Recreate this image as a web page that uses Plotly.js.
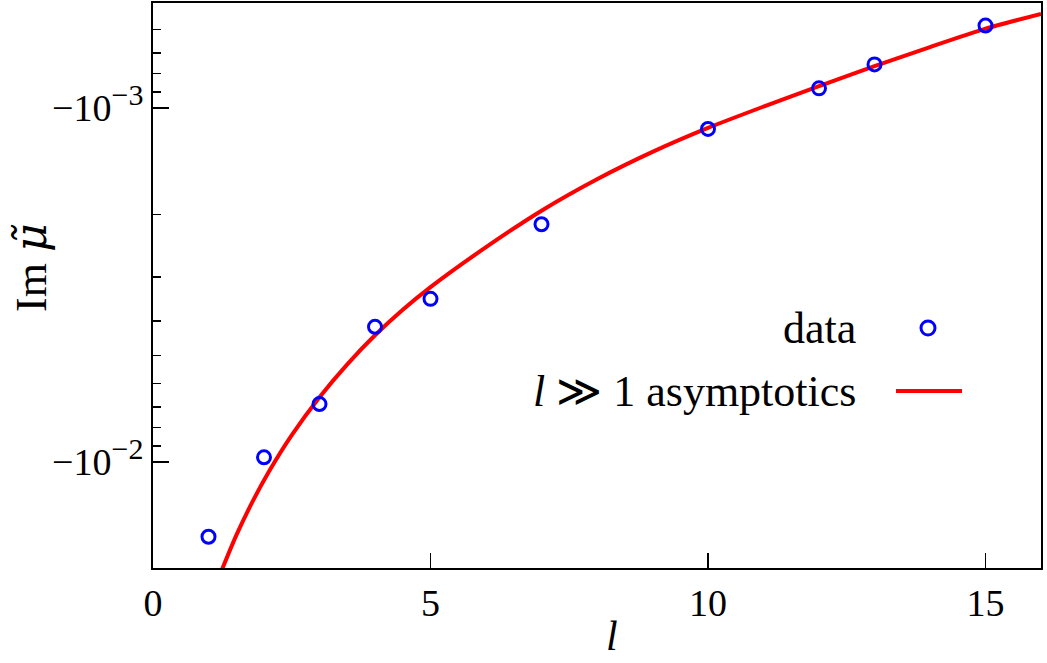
<!DOCTYPE html>
<html>
<head>
<meta charset="utf-8">
<script src="https://cdn.plot.ly/plotly-3.0.1.min.js"></script>
<style>
  html, body { margin: 0; padding: 0; background: white; }
  #chart { width: 1047px; height: 663px; }
</style>
</head>
<body>
<div id="chart"></div>
<script>
// numerical data: Im mu (negative) vs l
const lData = [1, 2, 3, 4, 5, 7, 10, 12, 13, 15]
const imMuData = [-0.01626, -0.00970, -0.00686, -0.00415, -0.00346, -0.00213, -0.001146, -0.000880, -0.000753, -0.000585]

// l >> 1 asymptotic curve
const lAsym = [1.24, 1.5, 1.8, 2.1, 2.5, 3, 3.5, 4, 4.5, 5, 6, 7, 8, 9, 10, 11, 12, 13, 14, 15, 16]
const imMuAsym = [-0.02018, -0.01612, -0.01288, -0.01057, -0.008395, -0.006561, -0.005297, -0.004385, -0.003715, -0.003206,
    -0.002472, -0.001950, -0.001589, -0.001330, -0.001138, -0.000991, -0.000867, -0.000762, -0.000673, -0.000597, -0.000542]

// axis ticks
const xTicks = [0, 5, 10, 15]
const yTickVals = [0.001, 0.01]
const yTickText = [
    '\u221210<sup><span style="font-size:30px">\u22123</span></sup>',
    '\u221210<sup><span style="font-size:30px">\u22122</span></sup>'
]
const yMinorVals = [0.0006, 0.0007, 0.0008, 0.0009, 0.002, 0.003, 0.004, 0.005, 0.006, 0.007, 0.008, 0.009]

// labels
const xLabel = '<i>l</i>'
const yLabel = 'Im <span style="font-family:DejaVu Serif;font-style:italic">\u03bc\u0303</span>'
const legendLabels = ['data', '<i>l</i> \u226b 1 asymptotics']

const serif = '"Liberation Serif", "DejaVu Serif", serif'

// log axis shows |Im mu|, reversed so more negative goes down
const abs = arr => arr.map(v => Math.abs(v))

// plot area in pixels (for placing the legend keys and titles)
const plotL = 153, plotW = 888, plotB = 568, plotH = 565
const px = x => (x - plotL) / plotW
const py = y => (plotB - y) / plotH

const traces = [
    {
        x: lAsym,
        y: abs(imMuAsym),
        type: 'scatter',
        mode: 'lines',
        name: 'asymptotics',
        line: { color: '#ff0000', width: 4, shape: 'spline', smoothing: 0.6 },
        hoverinfo: 'skip'
    },
    {
        x: lData,
        y: abs(imMuData),
        type: 'scatter',
        mode: 'markers',
        name: 'data',
        marker: { symbol: 'circle-open', size: 13, color: '#0000ff', line: { width: 3, color: '#0000ff' } },
        cliponaxis: false
    }
]

const textFont = (size) => ({ family: serif, size: size, color: 'black' })

const layout = {
    width: 1047,
    height: 663,
    paper_bgcolor: 'white',
    plot_bgcolor: 'white',
    font: textFont(38),
    margin: { l: 153, r: 6, t: 3, b: 95 },
    showlegend: false,
    xaxis: {
        range: [0, 16],
        tickmode: 'array',
        tickvals: xTicks,
        ticktext: xTicks.map(String),
        ticks: 'inside',
        ticklen: 15,
        tickwidth: 1.5,
        tickcolor: 'black',
        showline: true,
        linecolor: 'black',
        linewidth: 2,
        mirror: true,
        showgrid: false,
        zeroline: false,
        tickfont: textFont(38)
    },
    yaxis: {
        type: 'log',
        range: [-1.7006, -3.2966],
        tickmode: 'array',
        tickvals: yTickVals,
        ticktext: yTickText,
        ticks: 'inside',
        ticklen: 16,
        tickwidth: 1.5,
        tickcolor: 'black',
        minor: {
            tickmode: 'array',
            tickvals: yMinorVals,
            ticks: 'inside',
            ticklen: 8,
            tickwidth: 1.5,
            tickcolor: 'black',
            showgrid: false
        },
        showline: true,
        linecolor: 'black',
        linewidth: 2,
        mirror: true,
        showgrid: false,
        zeroline: false,
        tickfont: textFont(38)
    },
    annotations: [
        // axis titles
        {
            text: xLabel, xref: 'paper', yref: 'paper',
            x: px(612), y: py(661), xanchor: 'center', yanchor: 'bottom',
            showarrow: false, font: textFont(42)
        },
        {
            text: yLabel, xref: 'paper', yref: 'paper', textangle: -90,
            x: px(30), y: py(268), xanchor: 'center', yanchor: 'middle',
            showarrow: false, font: textFont(44)
        },
        // legend labels
        ...legendLabels.map((t, i) => ({
            text: t,
            xref: 'paper', yref: 'paper',
            x: px(858), y: py(i === 0 ? 328 : 391),
            xanchor: 'right', yanchor: 'middle',
            showarrow: false,
            font: textFont(44)
        }))
    ],
    // legend keys, drawn to the right of the labels as in the original
    shapes: [
        {
            type: 'circle', xref: 'paper', yref: 'paper',
            xsizemode: 'pixel', ysizemode: 'pixel',
            xanchor: px(928), yanchor: py(328),
            x0: -7, x1: 7, y0: -7, y1: 7,
            line: { color: '#0000ff', width: 3 }
        },
        {
            type: 'line', xref: 'paper', yref: 'paper',
            x0: px(896), x1: px(962), y0: py(391), y1: py(391),
            line: { color: '#ff0000', width: 4 }
        }
    ]
}

Plotly.newPlot('chart', traces, layout, { displayModeBar: false, staticPlot: true })
</script>
</body>
</html>
